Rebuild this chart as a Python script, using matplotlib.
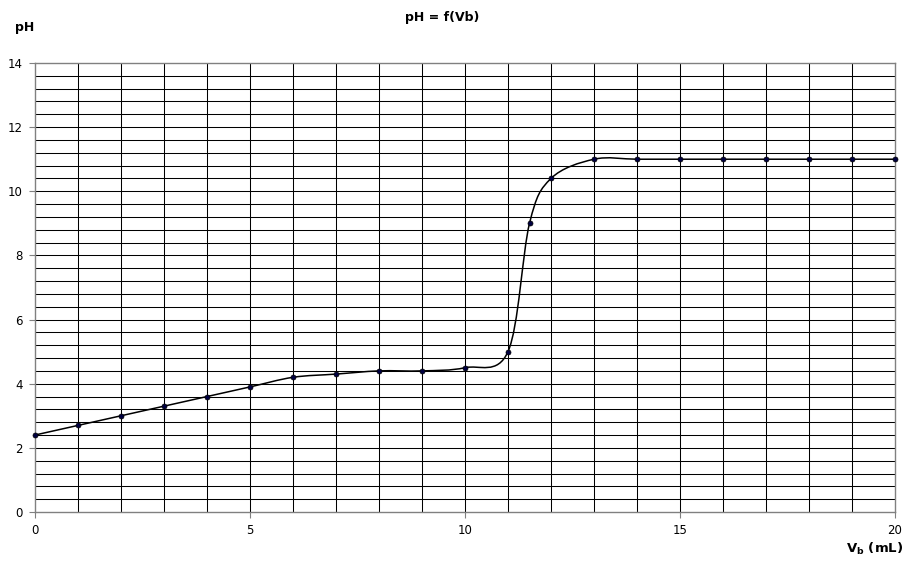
import numpy as np
import matplotlib
matplotlib.use("Agg")
import matplotlib.pyplot as plt
from matplotlib.path import Path
from matplotlib.patches import PathPatch

plt.rcParams['font.family'] = ['DejaVu Sans']

vb = [0, 1, 2, 3, 4, 5, 6, 7, 8, 9, 10, 11, 11.5, 12, 13, 14, 15, 16, 17, 18, 19, 20]
ph = [2.4, 2.7, 3.0, 3.3, 3.6, 3.9, 4.2, 4.3, 4.4, 4.4, 4.5, 5.0, 9.0, 10.4, 11.0,
      11.0, 11.0, 11.0, 11.0, 11.0, 11.0, 11.0]
x_ticks = [0, 5, 10, 15, 20]
y_ticks = [0, 2, 4, 6, 8, 10, 12, 14]

fig = plt.figure(figsize=(9.14, 5.69), dpi=100)
ax = fig.add_axes([35/914, 1-512/569, (895-35)/914, (512-63)/569])
ax.set_xlim(0, 20)
ax.set_ylim(0, 14)

# grid
for xv in np.arange(1, 20, 1):
    ax.axvline(xv, color='black', lw=0.75, zorder=1)
for yv in np.arange(0.4, 14.0, 0.4):
    ax.axhline(yv, color='black', lw=0.75, zorder=1)

# smoothed curve (Catmull-Rom as cubic Bezier, like spreadsheet smoothing)
P = np.column_stack([vb, ph]).astype(float)
verts = [tuple(P[0])]
codes = [Path.MOVETO]
n = len(P)
for i in range(n - 1):
    p0 = P[i - 1] if i > 0 else P[i]
    p1 = P[i]
    p2 = P[i + 1]
    p3 = P[i + 2] if i + 2 < n else P[i + 1]
    c1 = p1 + (p2 - p0) / 6.0
    c2 = p2 - (p3 - p1) / 6.0
    verts += [tuple(c1), tuple(c2), tuple(p2)]
    codes += [Path.CURVE4] * 3
ax.add_patch(PathPatch(Path(verts, codes), fill=False, edgecolor='black', lw=1.1, zorder=3))
ax.plot(vb, ph, ls='none', marker='o', ms=3.6, mfc='#000040', mec='black', mew=0.5, zorder=4,
        clip_on=False)

ax.set_xticks(x_ticks)
ax.set_yticks(y_ticks)
ax.tick_params(labelsize=8.5, length=4, width=0.8, color='#808080', pad=5)
for s in ax.spines.values():
    s.set_color('#808080')
    s.set_linewidth(1.0)

fig.text(442/914, 1-18/569, 'pH = f(Vb)', ha='center', va='center', fontsize=9, fontweight='bold')
fig.text(24.5/914, 1-27/569, 'pH', ha='center', va='center', fontsize=9, fontweight='bold')
fig.text(875/914, 1-549/569, r'V$_\mathbf{b}$ (mL)', ha='center', va='center', fontsize=9.5,
         fontweight='bold')

fig.savefig('out.png', dpi=100, facecolor='white')
